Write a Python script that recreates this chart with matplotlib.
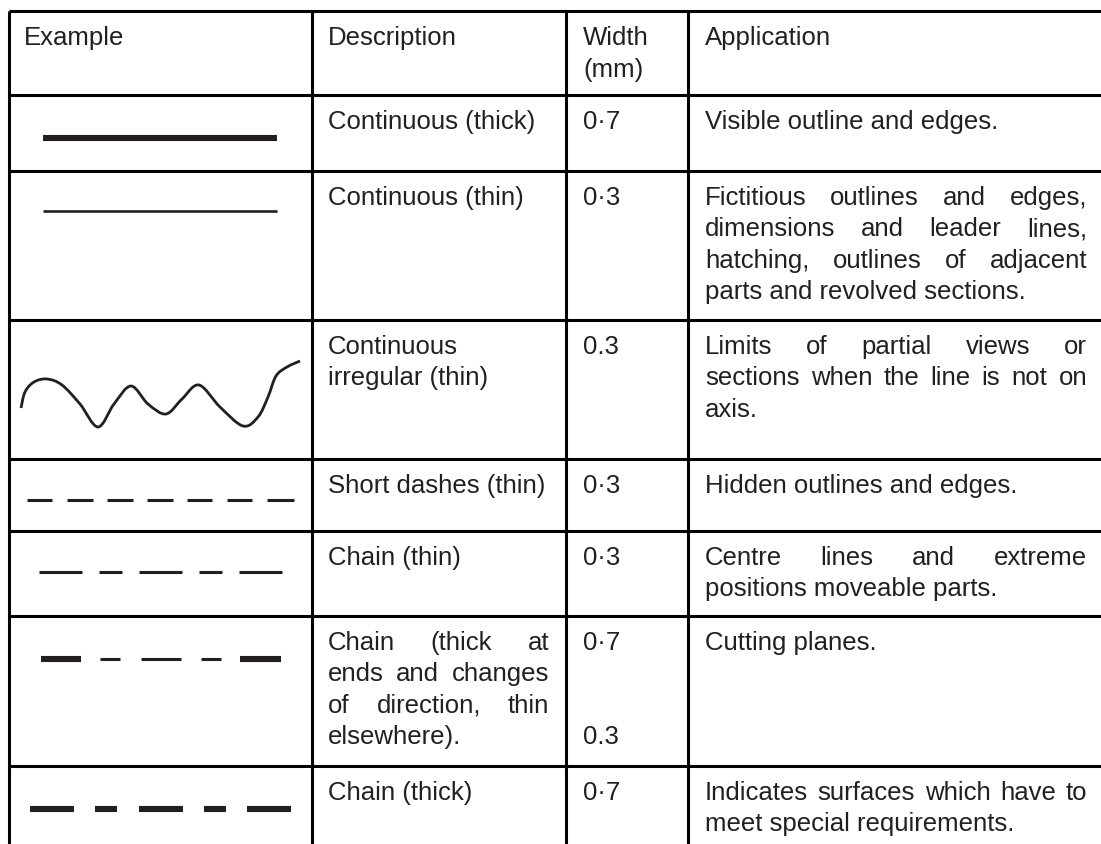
import matplotlib
matplotlib.use("Agg")
import matplotlib.pyplot as plt
from matplotlib.path import Path
from matplotlib.patches import PathPatch
import numpy as np

# table text
headers = ['Example', 'Description', 'Width\n(mm)', 'Application']
descriptions = [
    ['Continuous (thick)'],
    ['Continuous (thin)'],
    ['Continuous', 'irregular (thin)'],
    ['Short dashes (thin)'],
    ['Chain (thin)'],
    ['Chain (thick at', 'ends and changes', 'of direction, thin', 'elsewhere).'],
    ['Chain (thick)'],
]
widths = [['0·7'], ['0·3'], ['0.3'], ['0·3'], ['0·3'], ['0·7', '', '', '0.3'], ['0·7']]
applications = [
    ['Visible outline and edges.'],
    ['Fictitious outlines and edges,', 'dimensions and leader lines,',
     'hatching, outlines of adjacent', 'parts and revolved sections.'],
    ['Limits of partial views or', 'sections when the line is not on', 'axis.'],
    ['Hidden outlines and edges.'],
    ['Centre lines and extreme', 'positions moveable parts.'],
    ['Cutting planes.'],
    ['Indicates surfaces which have to', 'meet special requirements.'],
]

# line samples: (start, end, weight) in pixels of the example column
samples = [
    (139, [(43, 277, 'thick')]),
    (212, [(43, 277, 'hair')]),
    None,
    (501, [(27, 52, 'thin'), (67, 93, 'thin'), (107, 133, 'thin'), (147, 173, 'thin'),
           (187, 212, 'thin'), (227, 252, 'thin'), (267, 294, 'thin')]),
    (573, [(39, 82, 'thin'), (99, 122, 'thin'), (139, 182, 'thin'), (199, 222, 'thin'),
           (239, 282, 'thin')]),
    (660, [(41, 81, 'thick'), (100, 120, 'thin'), (141, 181, 'thin'), (201, 221, 'thin'),
           (240, 281, 'thick')]),
    (810, [(30, 74, 'thick'), (95, 117, 'thick'), (139, 183, 'thick'), (204, 226, 'thick'),
           (247, 291, 'thick')]),
]
wave_x = [21, 25, 34, 47, 62, 80, 98, 114, 131, 148, 166, 182, 199, 220, 243, 258, 268, 276, 287, 300]
wave_y = [409, 393, 383, 380, 386, 405, 428, 405, 387, 405, 415, 400, 386, 408, 427, 418, 398, 377, 368, 362]

row_edges = [12, 96, 172, 321, 460, 532, 617, 767]
col_edges = [9, 312, 566, 688]
text_x = [24, 328, 583, 705]
just_right = {1: 549, 3: 1087}
weights = {'thick': 4.4, 'thin': 2.2, 'hair': 1.9}
ink = '#231f20'
LS = 31.5

plt.rcParams['font.family'] = ['Liberation Sans', 'DejaVu Sans']
fig = plt.figure(figsize=(11.01, 8.45), dpi=100)
ax = fig.add_axes([0, 0, 1, 1])
ax.set_xlim(0, 1101)
ax.set_ylim(845, 0)
ax.axis('off')
renderer = fig.canvas.get_renderer()

# grid
ax.hlines(row_edges, col_edges[0], 1101, colors='black', linewidth=2.2)
ax.vlines(col_edges, row_edges[0], 845, colors='black', linewidth=2.2)


def put_lines(col, top, lines):
    x0 = text_x[col]
    for i, line in enumerate(lines):
        y = top + 33 + i * LS
        words = line.split(' ')
        last = i == len(lines) - 1
        if col in just_right and not last and len(words) > 1:
            ts = [ax.text(0, y, w, fontsize=18.5, color=ink, va='baseline') for w in words]
            ws = [t.get_window_extent(renderer).width for t in ts]
            gap = (just_right[col] - x0 - sum(ws)) / (len(words) - 1)
            x = x0
            for t, w in zip(ts, ws):
                t.set_x(x)
                x += w + gap
        else:
            ax.text(x0, y, line, fontsize=18.5, color=ink, va='baseline')


put_lines(0, row_edges[0], [headers[0]])
put_lines(1, row_edges[0], [headers[1]])
put_lines(2, row_edges[0], headers[2].split('\n'))
put_lines(3, row_edges[0], [headers[3]])
for r in range(len(descriptions)):
    top = row_edges[r + 1]
    put_lines(1, top, descriptions[r])
    put_lines(2, top, widths[r])
    put_lines(3, top, applications[r])

# example lines
for s in samples:
    if s is None:
        continue
    y, segs = s
    for x0, x1, wt in segs:
        lc = ax.hlines(y, x0, x1, colors=ink, linewidth=weights[wt])
        lc.set_capstyle('butt')

# irregular line as a smooth curve through the read points
P = np.column_stack([wave_x, wave_y]).astype(float)
Pe = np.vstack([P[0], P, P[-1]])
verts = [tuple(P[0])]
codes = [Path.MOVETO]
for i in range(1, len(Pe) - 2):
    c1 = Pe[i] + (Pe[i + 1] - Pe[i - 1]) / 6
    c2 = Pe[i + 1] - (Pe[i + 2] - Pe[i]) / 6
    verts += [tuple(c1), tuple(c2), tuple(Pe[i + 1])]
    codes += [Path.CURVE4] * 3
ax.add_patch(PathPatch(Path(verts, codes), facecolor='none', edgecolor=ink, linewidth=2.0))

fig.savefig('out.png', dpi=100)
